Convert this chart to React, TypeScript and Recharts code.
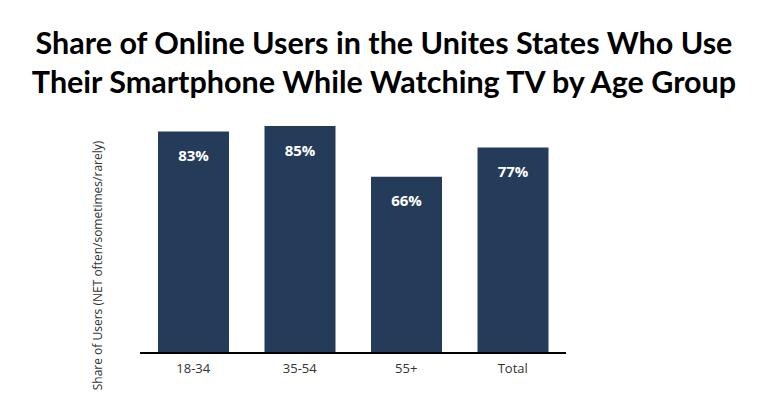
import React from 'react';
import { BarChart, Bar, XAxis, YAxis, LabelList } from 'recharts';

const categories = ['18-34', '35-54', '55+', 'Total'];
const shares = [83, 85, 66, 77];
const titleLines = [
  'Share of Online Users in the Unites States Who Use',
  'Their Smartphone While Watching TV by Age Group',
];
const yAxisTitle = 'Share of Users (NET often/sometimes/rarely)';

const data = categories.map((c, i) => ({ name: c, value: shares[i] }));

const BAR = '#243b5a';

export default function App() {
  return (
    <div style={{ position: 'absolute', left: 0, top: 0, width: 768, height: 419, background: '#fff' }}>
      <div
        style={{
          position: 'absolute',
          left: 0,
          top: 23,
          width: 768,
          textAlign: 'center',
          fontFamily: 'Lato, sans-serif',
          fontWeight: 700,
          fontSize: 30.5,
          lineHeight: '39px',
          color: '#000',
        }}
      >
        {titleLines.map((t) => (
          <div key={t}>{t}</div>
        ))}
      </div>
      <div style={{ position: 'absolute', left: 0, top: 0 }}>
        <BarChart
          width={768}
          height={419}
          data={data}
          margin={{ top: 86, right: 202, bottom: 36, left: 0 }}
          barCategoryGap={18}
        >
          <XAxis
            dataKey="name"
            axisLine={{ stroke: '#000', strokeWidth: 2 }}
            tickLine={false}
            height={30}
            tick={{ fill: '#333', fontSize: 13, fontFamily: 'Open Sans, sans-serif' }}
            tickMargin={5}
          />
          <YAxis
            width={140}
            domain={[0, 100]}
            axisLine={false}
            tickLine={false}
            tick={false}
            label={{
              value: yAxisTitle,
              angle: -90,
              position: 'center',
              dx: 28,
              dy: 46,
              fill: '#333',
              fontSize: 12,
              fontFamily: 'Open Sans, sans-serif',
            }}
          />
          <Bar dataKey="value" fill={BAR} isAnimationActive={false}>
            <LabelList
              dataKey="value"
              position="insideTop"
              offset={19}
              formatter={(v: number) => `${v}%`}
              fill="#fff"
              fontSize={15}
              fontWeight={700}
              fontFamily="Open Sans, sans-serif"
            />
          </Bar>
        </BarChart>
      </div>
    </div>
  );
}
